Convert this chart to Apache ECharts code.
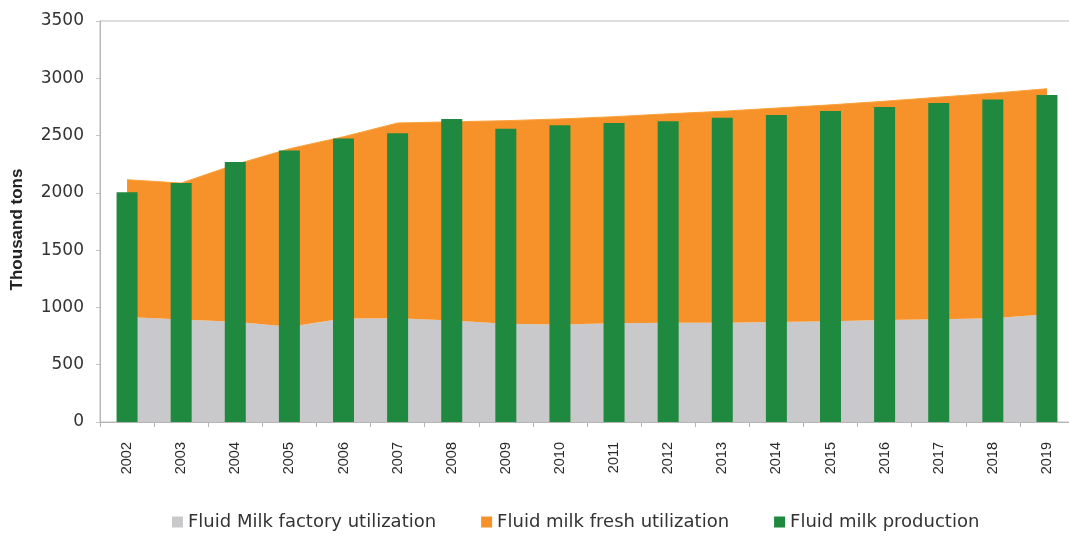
<!DOCTYPE html>
<html>
<head>
<meta charset="utf-8">
<style>
html,body{margin:0;padding:0;background:#fff;}
#chart{width:1069px;height:538px;}
</style>
<script src="https://cdn.jsdelivr.net/npm/echarts@6/dist/echarts.min.js"></script>
</head>
<body>
<div id="chart"></div>
<script>
var years = ['2002','2003','2004','2005','2006','2007','2008','2009','2010','2011','2012','2013','2014','2015','2016','2017','2018','2019'];
var factoryUtil = [916, 895, 875, 832, 903, 905, 885, 858, 852, 861, 866, 867, 872, 880, 890, 897, 905, 940];
var freshUtil = [1199, 1190, 1372, 1553, 1587, 1705, 1735, 1772, 1793, 1804, 1824, 1845, 1868, 1888, 1910, 1938, 1965, 1969];
var production = [2005, 2085, 2270, 2370, 2475, 2520, 2645, 2560, 2590, 2610, 2625, 2655, 2680, 2715, 2750, 2785, 2815, 2855];
var yTicks = [0, 500, 1000, 1500, 2000, 2500, 3000, 3500];

var chart = echarts.init(document.getElementById('chart'));
chart.setOption({
  animation: false,
  backgroundColor: '#ffffff',
  grid: {
    left: 100, top: 21, width: 974, height: 401,
    containLabel: false,
    outerBoundsMode: 'none',
    show: true, borderColor: '#bdbdbd', borderWidth: 1, backgroundColor: 'transparent'
  },
  legend: {
    left: 167, top: 508,
    itemWidth: 11, itemHeight: 11, itemGap: 45,
    icon: 'rect',
    textStyle: { fontFamily: 'DejaVu Sans', fontSize: 18, color: '#333' },
    data: ['Fluid Milk factory utilization', 'Fluid milk fresh utilization', 'Fluid milk production']
  },
  xAxis: {
    type: 'category',
    data: years,
    boundaryGap: true,
    axisLine: { lineStyle: { color: '#b5b5b5', width: 1 } },
    axisTick: { show: true, length: 5, lineStyle: { color: '#b5b5b5' } },
    axisLabel: { rotate: 90, margin: 20, fontFamily: 'Liberation Sans', fontSize: 14.5, color: '#2a2a2a', interval: 0 }
  },
  yAxis: {
    type: 'value',
    min: yTicks[0], max: yTicks[yTicks.length - 1], interval: 500,
    name: 'Thousand tons',
    nameLocation: 'middle',
    nameRotate: 90,
    nameGap: 74,
    nameTextStyle: { fontFamily: 'Liberation Sans', fontWeight: 'bold', fontSize: 17, color: '#222', padding: [0, 16, 0, 0] },
    axisLine: { show: true, lineStyle: { color: '#b5b5b5', width: 1 } },
    axisTick: { show: true, length: 4, lineStyle: { color: '#c5c5c5' } },
    splitLine: { show: false },
    axisLabel: { margin: 16, fontFamily: 'DejaVu Sans', fontSize: 17, color: '#333', formatter: function (v) { return String(v); } }
  },
  series: [
    {
      name: 'Fluid Milk factory utilization',
      type: 'line', stack: 'util',
      data: factoryUtil,
      symbol: 'none',
      lineStyle: { width: 0 },
      areaStyle: { color: '#c9c9cb', opacity: 1 },
      itemStyle: { color: '#c9c9cb' },
      z: 1
    },
    {
      name: 'Fluid milk fresh utilization',
      type: 'line', stack: 'util',
      data: freshUtil,
      symbol: 'none',
      lineStyle: { width: 1, color: '#f9a23c' },
      areaStyle: { color: '#f7922a', opacity: 1 },
      itemStyle: { color: '#f7922a' },
      z: 1
    },
    {
      name: 'Fluid milk production',
      type: 'bar',
      data: production,
      barWidth: 21,
      itemStyle: { color: '#1f8a3f' },
      z: 3
    }
  ]
});
</script>
</body>
</html>
